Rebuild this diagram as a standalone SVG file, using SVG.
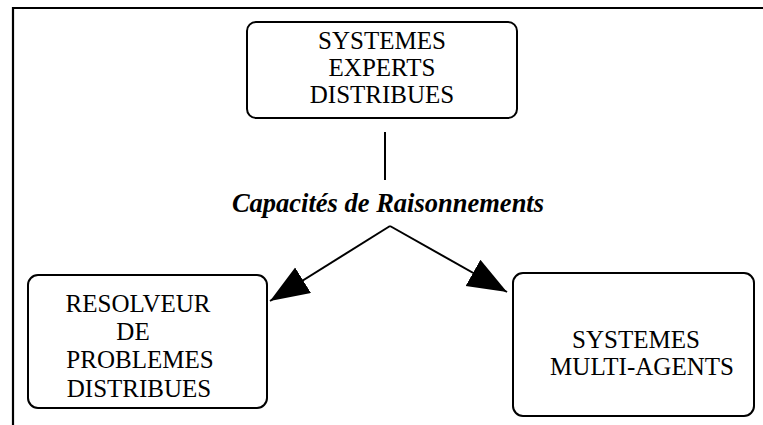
<svg xmlns="http://www.w3.org/2000/svg" width="763" height="425" viewBox="0 0 763 425">
  <style>
    .frame { stroke: #000; stroke-width: 2.2; fill: none; }
    .box { fill: #fff; stroke: #000; stroke-width: 2; }
    .lbl { font-family: 'Liberation Serif', 'DejaVu Serif', serif; font-size: 25px; fill: #000; text-anchor: middle; }
    .cap { font-family: 'Liberation Serif', 'DejaVu Serif', serif; font-size: 26.5px; font-weight: bold; font-style: italic; fill: #000; text-anchor: middle; }
    .edge { stroke: #000; stroke-width: 2; fill: none; }
  </style>
  <defs>
    <marker id="head" markerWidth="42" markerHeight="32" refX="39" refY="15" orient="auto" markerUnits="userSpaceOnUse">
      <path d="M0,0 L39,15 L0,30 Z" fill="#000"/>
    </marker>
  </defs>
  <rect width="763" height="425" fill="#fff"/>

  <!-- page frame: top and left rules -->
  <g id="frame">
    <line class="frame" x1="12" y1="8" x2="763" y2="8"/>
    <line class="frame" x1="13" y1="7" x2="13" y2="425"/>
  </g>

  <g id="connectors">
    <line class="edge" x1="385" y1="132" x2="385" y2="180"/>
    <line class="edge" x1="390" y1="226" x2="270" y2="301" marker-end="url(#head)"/>
    <line class="edge" x1="390" y1="226" x2="507" y2="292" marker-end="url(#head)"/>
    <text class="cap" x="388" y="212">Capacités de Raisonnements</text>
  </g>

  <g id="sed">
    <rect class="box" x="247" y="22" width="270" height="96" rx="9"/>
    <text class="lbl" x="382" y="49">SYSTEMES</text>
    <text class="lbl" x="382" y="76">EXPERTS</text>
    <text class="lbl" x="382" y="103">DISTRIBUES</text>
  </g>

  <g id="rpd">
    <rect class="box" x="28" y="275" width="239" height="133" rx="10"/>
    <text class="lbl" x="138" y="312">RESOLVEUR</text>
    <text class="lbl" x="133" y="340">DE</text>
    <text class="lbl" x="140" y="368">PROBLEMES</text>
    <text class="lbl" x="139" y="397">DISTRIBUES</text>
  </g>

  <g id="sma">
    <rect class="box" x="513" y="273" width="241" height="143" rx="10"/>
    <text class="lbl" x="636" y="348">SYSTEMES</text>
    <text class="lbl" x="642" y="375">MULTI-AGENTS</text>
  </g>
</svg>
